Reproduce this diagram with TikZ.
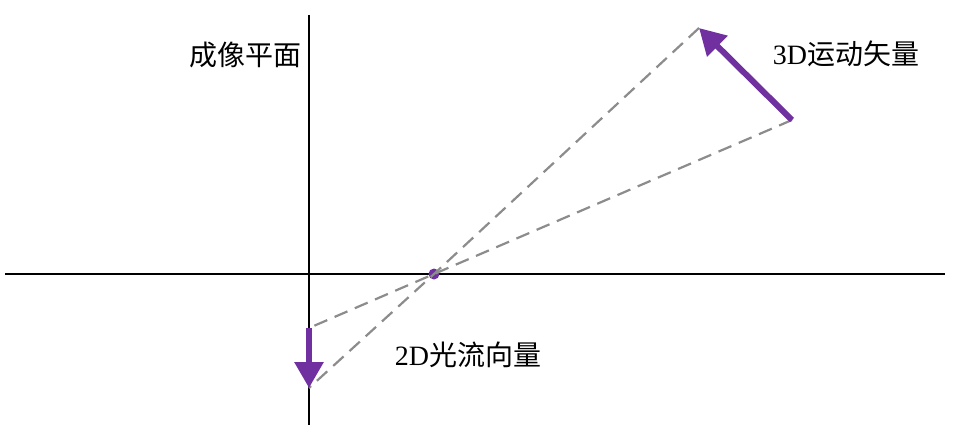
\documentclass[tikz,border=0pt]{standalone}
\usepackage{fontspec}
\setmainfont{Liberation Serif}
\newfontfamily\cjk{Noto Sans CJK SC}
\usetikzlibrary{arrows.meta}
\definecolor{vecpurple}{HTML}{7030A0}
\tikzset{
  axis/.style={line width=2.2pt, black},
  ray/.style={line width=2.2pt, gray!90, dash pattern=on 14pt off 8pt},
  motion/.style={line width=6pt, vecpurple, -{Triangle[length=26pt,width=28pt]}},
  lbl/.style={font=\fontsize{28}{32}\selectfont, inner sep=0pt}
}

\begin{document}
\begin{tikzpicture}[x=1pt, y=-1pt]
  \useasboundingbox (0,0) rectangle (964,436);
  % Axes
  \coordinate (vtop) at (309,15);
  \coordinate (vbot) at (309,425);
  \coordinate (hl) at (5,274);
  \coordinate (hr) at (945,274);
  \draw[axis] (vtop) -- (vbot);
  \draw[axis] (hl) -- (hr);
  % Optical centre and vector ends
  \node[circle, fill=vecpurple, inner sep=0pt, minimum size=11pt] (o) at (434,274) {};
  \coordinate (p3s) at (792,120);
  \coordinate (p3e) at (699,28);
  \coordinate (p2s) at (309,328);
  \coordinate (p2e) at (309,388);
  % Projection rays
  \draw[ray] (p3s) -- (o.center) -- (p2s);
  \draw[ray] (p3e) -- (o.center) -- (p2e);
  % Vectors
  \draw[motion] (p3s) -- (p3e);
  \draw[motion] (p2s) -- (p2e);
  % Labels
  \node[lbl] (plane) at (245,55) {\cjk 成像平面};
  \node[lbl] (mot3d) at (846,54) {3D{\cjk 运动矢量}};
  \node[lbl] (flow2d) at (468,355) {2D{\cjk 光流向量}};
\end{tikzpicture}
\end{document}
